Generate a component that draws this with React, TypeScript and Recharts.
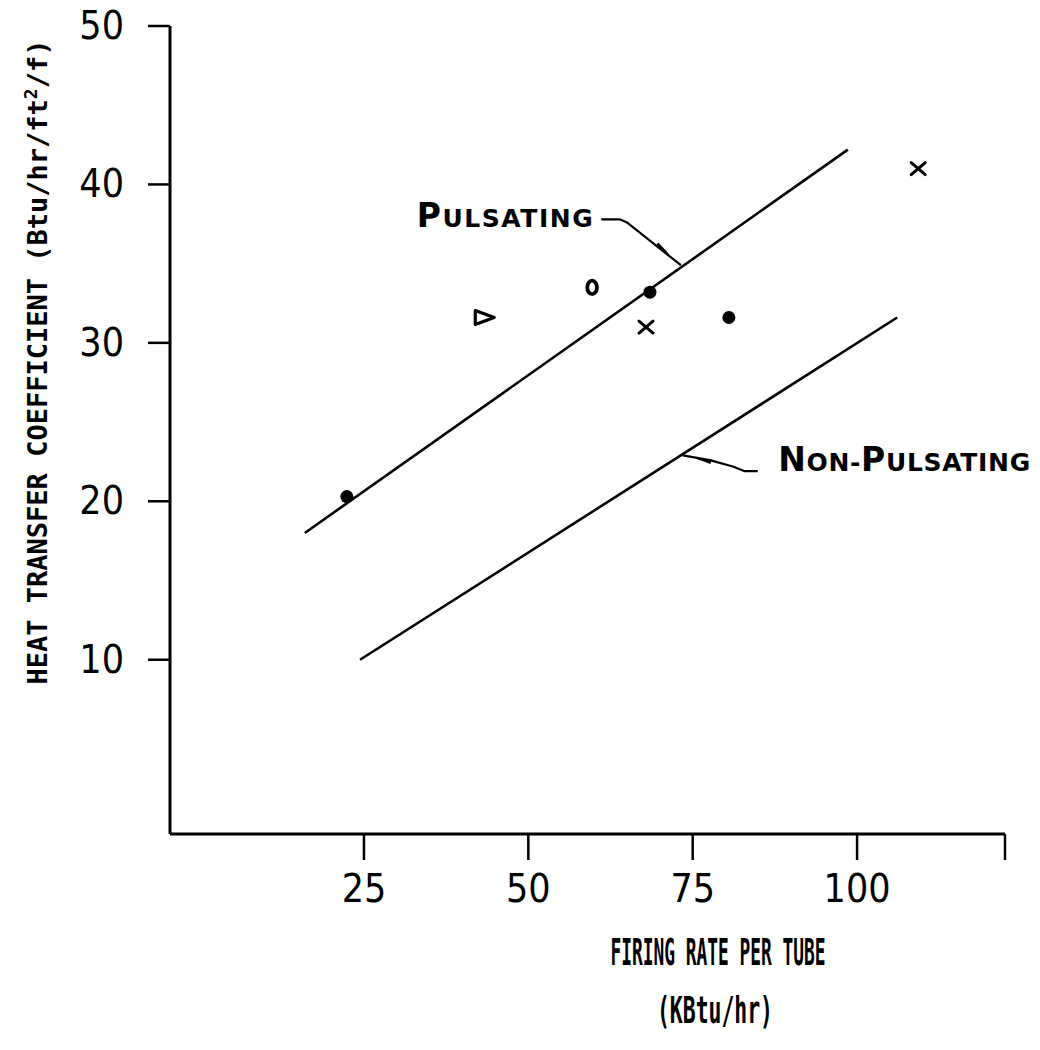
import React from 'react';
import { ScatterChart, Scatter, XAxis, YAxis } from 'recharts';

// ---- data (x: firing rate KBtu/hr, y: heat transfer coefficient) ----
const xTicks = [25, 50, 75, 100, 122.5];
const yTicks = [10, 20, 30, 40, 50];
const xDomain: [number, number] = [-4.5, 122.5];
const yDomain: [number, number] = [-1, 50];

const filledDots = [
  { x: 22.4, y: 20.3 },
  { x: 68.5, y: 33.2 },
  { x: 80.5, y: 31.6 },
];
const crosses = [
  { x: 67.9, y: 31.0 },
  { x: 109.3, y: 41.0 },
];
const triangles = [{ x: 43.3, y: 31.6 }];
const openCircles = [{ x: 59.7, y: 33.5 }];

const pulsatingLine = [
  { x: 16.0, y: 18.0 },
  { x: 98.6, y: 42.2 },
];
const nonPulsatingLine = [
  { x: 24.4, y: 10.0 },
  { x: 106.1, y: 31.6 },
];

const pulsatingLeader = [
  { x: 61.1, y: 37.8 },
  { x: 63.9, y: 37.8 },
  { x: 65.0, y: 37.6 },
  { x: 73.2, y: 34.9 },
];
const nonPulsatingLeader = [
  { x: 84.9, y: 21.9 },
  { x: 82.9, y: 21.9 },
  { x: 81.1, y: 22.2 },
  { x: 77.6, y: 22.6 },
  { x: 73.5, y: 22.9 },
];
const arrowHeads = [
  { x: 70.5, y: 35.9, angle: 38 },
  { x: 76.6, y: 22.6, angle: 192 },
];
const pulsatingLabel = [{ x: 59.8, y: 38.0, text: 'PULSATING', anchor: 'end', len: 176 }];
const nonPulsatingLabel = [{ x: 88.0, y: 22.6, text: 'NON-PULSATING', anchor: 'start', len: 252 }];

const INK = '#000';
const TICK_FONT = "'DejaVu Sans Condensed', 'DejaVu Sans', sans-serif";
const TITLE_FONT = "'DejaVu Sans Mono', monospace";
const LABEL_FONT = "'DejaVu Sans', sans-serif";

const Nothing = () => <g />;

const DotShape = (p: any) => <circle cx={p.cx} cy={p.cy} r={6.5} fill={INK} />;
const CrossShape = (p: any) => (
  <g stroke={INK} strokeWidth={3} strokeLinecap="round">
    <line x1={p.cx - 7} y1={p.cy - 6} x2={p.cx + 7} y2={p.cy + 6} />
    <line x1={p.cx - 7} y1={p.cy + 6} x2={p.cx + 7} y2={p.cy - 6} />
  </g>
);
const TriangleShape = (p: any) => (
  <polygon
    points={`${p.cx - 9},${p.cy - 7} ${p.cx + 10},${p.cy} ${p.cx - 9},${p.cy + 7}`}
    fill="none"
    stroke={INK}
    strokeWidth={3.2}
    strokeLinejoin="round"
  />
);
const OpenCircleShape = (p: any) => (
  <ellipse cx={p.cx} cy={p.cy} rx={4.8} ry={6.8} fill="none" stroke={INK} strokeWidth={3.8} />
);
const ArrowShape = (p: any) => {
  const a = p.payload?.angle ?? 0;
  return (
    <g transform={`translate(${p.cx},${p.cy}) rotate(${a})`}>
      <polygon points="-8,-2.4 8,0 -8,2.4" fill={INK} />
    </g>
  );
};
const LabelShape = (p: any) => {
  const t: string = p.payload?.text ?? '';
  return (
    <text
      x={p.cx}
      y={p.cy}
      dy={11}
      textAnchor={p.payload?.anchor}
      fontFamily={LABEL_FONT}
      fontWeight="bold"
      fill={INK}
      textLength={p.payload?.len}
      lengthAdjust="spacing"
    >
      {t.split('').map((ch, i) => {
        const big = i === 0 || (t.startsWith('NON') && t[i - 1] === '-');
        return (
          <tspan key={i} fontSize={big ? 33 : 25}>
            {ch}
          </tspan>
        );
      })}
    </text>
  );
};

const XTick = (p: any) => {
  const v = p.payload?.value;
  if (v > 110) return <g />;
  return (
    <text
      x={p.x}
      y={p.y}
      dy={34}
      textAnchor="middle"
      fontFamily={TICK_FONT}
      fontSize={39}
      fill={INK}
    >
      {v}
    </text>
  );
};
const YTick = (p: any) => (
  <text
    x={p.x}
    y={p.y}
    dy={13}
    textAnchor="end"
    fontFamily={TICK_FONT}
    fontSize={39}
    fill={INK}
  >
    {p.payload?.value}
  </text>
);

const XTitle = (p: any) => {
  const vb = p.viewBox || { x: 0, y: 0 };
  return (
    <g fill={INK} fontFamily={TITLE_FONT} fontWeight="bold" fontSize={37}>
      <text
        transform={`translate(${vb.x + 548},${vb.y + 131}) scale(0.483,1)`}
        textAnchor="middle"
      >
        FIRING RATE PER TUBE
      </text>
      <text
        transform={`translate(${vb.x + 545},${vb.y + 189}) scale(0.579,1)`}
        textAnchor="middle"
      >
        (KBtu/hr)
      </text>
    </g>
  );
};
const YTitle = () => {
  const cx = 47;
  const cy = 362;
  return (
    <text
      transform={`translate(${cx},${cy}) rotate(-90)`}
      textAnchor="middle"
      fill={INK}
      fontFamily={TITLE_FONT}
      fontWeight="bold"
      fontSize={27}
      textLength={645}
      lengthAdjust="spacingAndGlyphs"
    >
      HEAT TRANSFER COEFFICIENT (Btu/hr/ft
      <tspan dy={-10} fontSize={18}>2</tspan>
      <tspan dy={10}>/f)</tspan>
    </text>
  );
};

export default function App() {
  return (
    <div style={{ position: 'absolute', left: 0, top: 0, background: '#fff' }}>
      <ScatterChart
        width={1040}
        height={1050}
        margin={{ top: 26, right: 35, left: 0, bottom: 0 }}
        style={{ overflow: 'visible' }}
      >
        <XAxis
          type="number"
          dataKey="x"
          domain={xDomain}
          ticks={xTicks}
          height={216}
          tickSize={26}
          tickMargin={8}
          axisLine={{ stroke: INK, strokeWidth: 3 }}
          tickLine={{ stroke: INK, strokeWidth: 2.5 }}
          tick={<XTick />}
          label={{ content: <XTitle /> }}
        />
        <YAxis
          type="number"
          dataKey="y"
          domain={yDomain}
          ticks={yTicks}
          width={170}
          tickSize={22}
          tickMargin={24}
          axisLine={{ stroke: INK, strokeWidth: 3 }}
          tickLine={{ stroke: INK, strokeWidth: 2.5 }}
          tick={<YTick />}
          label={{ content: <YTitle /> }}
        />
        <Scatter
          data={pulsatingLine}
          line={{ stroke: INK, strokeWidth: 2.6 }}
          shape={<Nothing />}
          isAnimationActive={false}
        />
        <Scatter
          data={nonPulsatingLine}
          line={{ stroke: INK, strokeWidth: 2.6 }}
          shape={<Nothing />}
          isAnimationActive={false}
        />
        <Scatter
          data={pulsatingLeader}
          line={{ stroke: INK, strokeWidth: 2.2 }}
          shape={<Nothing />}
          isAnimationActive={false}
        />
        <Scatter
          data={nonPulsatingLeader}
          line={{ stroke: INK, strokeWidth: 2.2 }}
          shape={<Nothing />}
          isAnimationActive={false}
        />
        <Scatter data={arrowHeads} shape={<ArrowShape />} isAnimationActive={false} />
        <Scatter data={filledDots} shape={<DotShape />} isAnimationActive={false} />
        <Scatter data={crosses} shape={<CrossShape />} isAnimationActive={false} />
        <Scatter data={triangles} shape={<TriangleShape />} isAnimationActive={false} />
        <Scatter data={openCircles} shape={<OpenCircleShape />} isAnimationActive={false} />
        <Scatter data={pulsatingLabel} shape={<LabelShape />} isAnimationActive={false} />
        <Scatter data={nonPulsatingLabel} shape={<LabelShape />} isAnimationActive={false} />
      </ScatterChart>
    </div>
  );
}
